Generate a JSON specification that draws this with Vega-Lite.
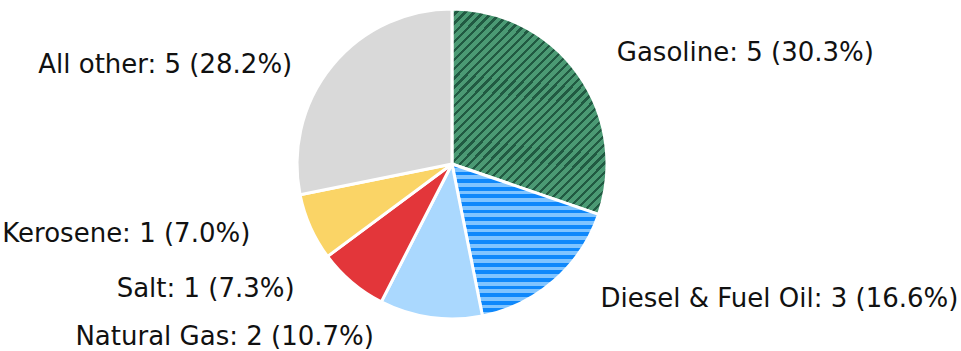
{
  "$schema": "https://vega.github.io/schema/vega-lite/v6.json",
  "autosize": "none",
  "width": 904,
  "height": 328,
  "padding": {"left": 0, "top": 0, "right": 57, "bottom": 23},
  "background": "white",
  "config": {"view": {"stroke": null}, "text": {"font": "DejaVu Sans", "fontSize": 26, "fill": "#111111"}},
  "data": {"values": [
    {"i": 1, "k": "Gasoline", "n": 5, "p": 30.3},
    {"i": 2, "k": "Diesel & Fuel Oil", "n": 3, "p": 16.6},
    {"i": 3, "k": "Natural Gas", "n": 2, "p": 10.7},
    {"i": 4, "k": "Salt", "n": 1, "p": 7.3},
    {"i": 5, "k": "Kerosene", "n": 1, "p": 7.0},
    {"i": 6, "k": "All other", "n": 5, "p": 28.2}
  ]},
  "transform": [{"calculate": "datum.k + ': ' + datum.n + ' (' + format(datum.p, '.1f') + '%)'", "as": "lab"}],
  "encoding": {
    "theta": {"field": "p", "type": "quantitative", "stack": true},
    "order": {"field": "i", "type": "quantitative", "sort": "ascending"},
    "detail": {"field": "k", "type": "nominal"}
  },
  "layer": [
    {
      "mark": {"type": "arc", "outerRadius": 155, "stroke": "white", "strokeWidth": 3},
      "encoding": {
        "fill": {
          "condition": [
            {"test": "datum.k === 'Gasoline'", "value": {"gradient": "linear", "x1": 0, "y1": 0, "x2": 0.86, "y2": 1.12, "stops": [
              {"offset": 0, "color": "#4b9a74"}, {"offset": 0.016, "color": "#4b9a74"}, {"offset": 0.016, "color": "#215a42"}, {"offset": 0.025, "color": "#215a42"},
              {"offset": 0.025, "color": "#4b9a74"}, {"offset": 0.041, "color": "#4b9a74"}, {"offset": 0.041, "color": "#215a42"}, {"offset": 0.05, "color": "#215a42"},
              {"offset": 0.05, "color": "#4b9a74"}, {"offset": 0.066, "color": "#4b9a74"}, {"offset": 0.066, "color": "#215a42"}, {"offset": 0.075, "color": "#215a42"},
              {"offset": 0.075, "color": "#4b9a74"}, {"offset": 0.091, "color": "#4b9a74"}, {"offset": 0.091, "color": "#215a42"}, {"offset": 0.1, "color": "#215a42"},
              {"offset": 0.1, "color": "#4b9a74"}, {"offset": 0.116, "color": "#4b9a74"}, {"offset": 0.116, "color": "#215a42"}, {"offset": 0.125, "color": "#215a42"},
              {"offset": 0.125, "color": "#4b9a74"}, {"offset": 0.141, "color": "#4b9a74"}, {"offset": 0.141, "color": "#215a42"}, {"offset": 0.15, "color": "#215a42"},
              {"offset": 0.15, "color": "#4b9a74"}, {"offset": 0.166, "color": "#4b9a74"}, {"offset": 0.166, "color": "#215a42"}, {"offset": 0.175, "color": "#215a42"},
              {"offset": 0.175, "color": "#4b9a74"}, {"offset": 0.191, "color": "#4b9a74"}, {"offset": 0.191, "color": "#215a42"}, {"offset": 0.2, "color": "#215a42"},
              {"offset": 0.2, "color": "#4b9a74"}, {"offset": 0.216, "color": "#4b9a74"}, {"offset": 0.216, "color": "#215a42"}, {"offset": 0.225, "color": "#215a42"},
              {"offset": 0.225, "color": "#4b9a74"}, {"offset": 0.241, "color": "#4b9a74"}, {"offset": 0.241, "color": "#215a42"}, {"offset": 0.25, "color": "#215a42"},
              {"offset": 0.25, "color": "#4b9a74"}, {"offset": 0.266, "color": "#4b9a74"}, {"offset": 0.266, "color": "#215a42"}, {"offset": 0.275, "color": "#215a42"},
              {"offset": 0.275, "color": "#4b9a74"}, {"offset": 0.291, "color": "#4b9a74"}, {"offset": 0.291, "color": "#215a42"}, {"offset": 0.3, "color": "#215a42"},
              {"offset": 0.3, "color": "#4b9a74"}, {"offset": 0.316, "color": "#4b9a74"}, {"offset": 0.316, "color": "#215a42"}, {"offset": 0.325, "color": "#215a42"},
              {"offset": 0.325, "color": "#4b9a74"}, {"offset": 0.341, "color": "#4b9a74"}, {"offset": 0.341, "color": "#215a42"}, {"offset": 0.35, "color": "#215a42"},
              {"offset": 0.35, "color": "#4b9a74"}, {"offset": 0.366, "color": "#4b9a74"}, {"offset": 0.366, "color": "#215a42"}, {"offset": 0.375, "color": "#215a42"},
              {"offset": 0.375, "color": "#4b9a74"}, {"offset": 0.391, "color": "#4b9a74"}, {"offset": 0.391, "color": "#215a42"}, {"offset": 0.4, "color": "#215a42"},
              {"offset": 0.4, "color": "#4b9a74"}, {"offset": 0.416, "color": "#4b9a74"}, {"offset": 0.416, "color": "#215a42"}, {"offset": 0.425, "color": "#215a42"},
              {"offset": 0.425, "color": "#4b9a74"}, {"offset": 0.441, "color": "#4b9a74"}, {"offset": 0.441, "color": "#215a42"}, {"offset": 0.45, "color": "#215a42"},
              {"offset": 0.45, "color": "#4b9a74"}, {"offset": 0.466, "color": "#4b9a74"}, {"offset": 0.466, "color": "#215a42"}, {"offset": 0.475, "color": "#215a42"},
              {"offset": 0.475, "color": "#4b9a74"}, {"offset": 0.491, "color": "#4b9a74"}, {"offset": 0.491, "color": "#215a42"}, {"offset": 0.5, "color": "#215a42"},
              {"offset": 0.5, "color": "#4b9a74"}, {"offset": 0.516, "color": "#4b9a74"}, {"offset": 0.516, "color": "#215a42"}, {"offset": 0.525, "color": "#215a42"},
              {"offset": 0.525, "color": "#4b9a74"}, {"offset": 0.541, "color": "#4b9a74"}, {"offset": 0.541, "color": "#215a42"}, {"offset": 0.55, "color": "#215a42"},
              {"offset": 0.55, "color": "#4b9a74"}, {"offset": 0.566, "color": "#4b9a74"}, {"offset": 0.566, "color": "#215a42"}, {"offset": 0.575, "color": "#215a42"},
              {"offset": 0.575, "color": "#4b9a74"}, {"offset": 0.591, "color": "#4b9a74"}, {"offset": 0.591, "color": "#215a42"}, {"offset": 0.6, "color": "#215a42"},
              {"offset": 0.6, "color": "#4b9a74"}, {"offset": 0.616, "color": "#4b9a74"}, {"offset": 0.616, "color": "#215a42"}, {"offset": 0.625, "color": "#215a42"},
              {"offset": 0.625, "color": "#4b9a74"}, {"offset": 0.641, "color": "#4b9a74"}, {"offset": 0.641, "color": "#215a42"}, {"offset": 0.65, "color": "#215a42"},
              {"offset": 0.65, "color": "#4b9a74"}, {"offset": 0.666, "color": "#4b9a74"}, {"offset": 0.666, "color": "#215a42"}, {"offset": 0.675, "color": "#215a42"},
              {"offset": 0.675, "color": "#4b9a74"}, {"offset": 0.691, "color": "#4b9a74"}, {"offset": 0.691, "color": "#215a42"}, {"offset": 0.7, "color": "#215a42"},
              {"offset": 0.7, "color": "#4b9a74"}, {"offset": 0.716, "color": "#4b9a74"}, {"offset": 0.716, "color": "#215a42"}, {"offset": 0.725, "color": "#215a42"},
              {"offset": 0.725, "color": "#4b9a74"}, {"offset": 0.741, "color": "#4b9a74"}, {"offset": 0.741, "color": "#215a42"}, {"offset": 0.75, "color": "#215a42"},
              {"offset": 0.75, "color": "#4b9a74"}, {"offset": 0.766, "color": "#4b9a74"}, {"offset": 0.766, "color": "#215a42"}, {"offset": 0.775, "color": "#215a42"},
              {"offset": 0.775, "color": "#4b9a74"}, {"offset": 0.791, "color": "#4b9a74"}, {"offset": 0.791, "color": "#215a42"}, {"offset": 0.8, "color": "#215a42"},
              {"offset": 0.8, "color": "#4b9a74"}, {"offset": 0.816, "color": "#4b9a74"}, {"offset": 0.816, "color": "#215a42"}, {"offset": 0.825, "color": "#215a42"},
              {"offset": 0.825, "color": "#4b9a74"}, {"offset": 0.841, "color": "#4b9a74"}, {"offset": 0.841, "color": "#215a42"}, {"offset": 0.85, "color": "#215a42"},
              {"offset": 0.85, "color": "#4b9a74"}, {"offset": 0.866, "color": "#4b9a74"}, {"offset": 0.866, "color": "#215a42"}, {"offset": 0.875, "color": "#215a42"},
              {"offset": 0.875, "color": "#4b9a74"}, {"offset": 0.891, "color": "#4b9a74"}, {"offset": 0.891, "color": "#215a42"}, {"offset": 0.9, "color": "#215a42"},
              {"offset": 0.9, "color": "#4b9a74"}, {"offset": 0.916, "color": "#4b9a74"}, {"offset": 0.916, "color": "#215a42"}, {"offset": 0.925, "color": "#215a42"},
              {"offset": 0.925, "color": "#4b9a74"}, {"offset": 0.941, "color": "#4b9a74"}, {"offset": 0.941, "color": "#215a42"}, {"offset": 0.95, "color": "#215a42"},
              {"offset": 0.95, "color": "#4b9a74"}, {"offset": 0.966, "color": "#4b9a74"}, {"offset": 0.966, "color": "#215a42"}, {"offset": 0.975, "color": "#215a42"},
              {"offset": 0.975, "color": "#4b9a74"}, {"offset": 0.991, "color": "#4b9a74"}, {"offset": 0.991, "color": "#215a42"}, {"offset": 1, "color": "#215a42"}
            ]}},
            {"test": "datum.k === 'Diesel & Fuel Oil'", "value": {"gradient": "linear", "x1": 0, "y1": 0, "x2": 0, "y2": 1, "stops": [
              {"offset": 0, "color": "#0f88fb"}, {"offset": 0.025, "color": "#0f88fb"}, {"offset": 0.025, "color": "#80c4ff"}, {"offset": 0.05, "color": "#80c4ff"},
              {"offset": 0.05, "color": "#0f88fb"}, {"offset": 0.075, "color": "#0f88fb"}, {"offset": 0.075, "color": "#80c4ff"}, {"offset": 0.1, "color": "#80c4ff"},
              {"offset": 0.1, "color": "#0f88fb"}, {"offset": 0.125, "color": "#0f88fb"}, {"offset": 0.125, "color": "#80c4ff"}, {"offset": 0.15, "color": "#80c4ff"},
              {"offset": 0.15, "color": "#0f88fb"}, {"offset": 0.175, "color": "#0f88fb"}, {"offset": 0.175, "color": "#80c4ff"}, {"offset": 0.2, "color": "#80c4ff"},
              {"offset": 0.2, "color": "#0f88fb"}, {"offset": 0.225, "color": "#0f88fb"}, {"offset": 0.225, "color": "#80c4ff"}, {"offset": 0.25, "color": "#80c4ff"},
              {"offset": 0.25, "color": "#0f88fb"}, {"offset": 0.275, "color": "#0f88fb"}, {"offset": 0.275, "color": "#80c4ff"}, {"offset": 0.3, "color": "#80c4ff"},
              {"offset": 0.3, "color": "#0f88fb"}, {"offset": 0.325, "color": "#0f88fb"}, {"offset": 0.325, "color": "#80c4ff"}, {"offset": 0.35, "color": "#80c4ff"},
              {"offset": 0.35, "color": "#0f88fb"}, {"offset": 0.375, "color": "#0f88fb"}, {"offset": 0.375, "color": "#80c4ff"}, {"offset": 0.4, "color": "#80c4ff"},
              {"offset": 0.4, "color": "#0f88fb"}, {"offset": 0.425, "color": "#0f88fb"}, {"offset": 0.425, "color": "#80c4ff"}, {"offset": 0.45, "color": "#80c4ff"},
              {"offset": 0.45, "color": "#0f88fb"}, {"offset": 0.475, "color": "#0f88fb"}, {"offset": 0.475, "color": "#80c4ff"}, {"offset": 0.5, "color": "#80c4ff"},
              {"offset": 0.5, "color": "#0f88fb"}, {"offset": 0.525, "color": "#0f88fb"}, {"offset": 0.525, "color": "#80c4ff"}, {"offset": 0.55, "color": "#80c4ff"},
              {"offset": 0.55, "color": "#0f88fb"}, {"offset": 0.575, "color": "#0f88fb"}, {"offset": 0.575, "color": "#80c4ff"}, {"offset": 0.6, "color": "#80c4ff"},
              {"offset": 0.6, "color": "#0f88fb"}, {"offset": 0.625, "color": "#0f88fb"}, {"offset": 0.625, "color": "#80c4ff"}, {"offset": 0.65, "color": "#80c4ff"},
              {"offset": 0.65, "color": "#0f88fb"}, {"offset": 0.675, "color": "#0f88fb"}, {"offset": 0.675, "color": "#80c4ff"}, {"offset": 0.7, "color": "#80c4ff"},
              {"offset": 0.7, "color": "#0f88fb"}, {"offset": 0.725, "color": "#0f88fb"}, {"offset": 0.725, "color": "#80c4ff"}, {"offset": 0.75, "color": "#80c4ff"},
              {"offset": 0.75, "color": "#0f88fb"}, {"offset": 0.775, "color": "#0f88fb"}, {"offset": 0.775, "color": "#80c4ff"}, {"offset": 0.8, "color": "#80c4ff"},
              {"offset": 0.8, "color": "#0f88fb"}, {"offset": 0.825, "color": "#0f88fb"}, {"offset": 0.825, "color": "#80c4ff"}, {"offset": 0.85, "color": "#80c4ff"},
              {"offset": 0.85, "color": "#0f88fb"}, {"offset": 0.875, "color": "#0f88fb"}, {"offset": 0.875, "color": "#80c4ff"}, {"offset": 0.9, "color": "#80c4ff"},
              {"offset": 0.9, "color": "#0f88fb"}, {"offset": 0.925, "color": "#0f88fb"}, {"offset": 0.925, "color": "#80c4ff"}, {"offset": 0.95, "color": "#80c4ff"},
              {"offset": 0.95, "color": "#0f88fb"}, {"offset": 0.975, "color": "#0f88fb"}, {"offset": 0.975, "color": "#80c4ff"}, {"offset": 1, "color": "#80c4ff"}
            ]}}
          ],
          "field": "k",
          "type": "nominal",
          "scale": {
            "domain": ["Gasoline", "Diesel & Fuel Oil", "Natural Gas", "Salt", "Kerosene", "All other"],
            "range": ["#3b8060", "#42a3ff", "#aad8fe", "#e3363a", "#fad466", "#d9d9d9"]
          },
          "legend": null
        }
      }
    },
    {
      "mark": {"type": "text", "radius": 200, "align": "left", "baseline": "middle", "dx": 2, "dy": 5},
      "encoding": {"text": {"condition": {"test": "datum.k === 'Gasoline'", "field": "lab", "type": "nominal"}, "value": ""}}
    },
    {
      "mark": {"type": "text", "radius": 180, "align": "left", "baseline": "middle", "dx": 30, "dy": 0},
      "encoding": {"text": {"condition": {"test": "datum.k === 'Diesel & Fuel Oil'", "field": "lab", "type": "nominal"}, "value": ""}}
    },
    {
      "mark": {"type": "text", "radius": 175, "align": "right", "baseline": "middle", "dx": -54, "dy": 0},
      "encoding": {"text": {"condition": {"test": "datum.k === 'Natural Gas'", "field": "lab", "type": "nominal"}, "value": ""}}
    },
    {
      "mark": {"type": "text", "radius": 166, "align": "right", "baseline": "middle", "dx": -50, "dy": -2},
      "encoding": {"text": {"condition": {"test": "datum.k === 'Salt'", "field": "lab", "type": "nominal"}, "value": ""}}
    },
    {
      "mark": {"type": "text", "radius": 200, "align": "right", "baseline": "middle", "dx": -19, "dy": -11},
      "encoding": {"text": {"condition": {"test": "datum.k === 'Kerosene'", "field": "lab", "type": "nominal"}, "value": ""}}
    },
    {
      "mark": {"type": "text", "radius": 156, "align": "right", "baseline": "middle", "dx": -39, "dy": 0},
      "encoding": {"text": {"condition": {"test": "datum.k === 'All other'", "field": "lab", "type": "nominal"}, "value": ""}}
    }
  ]
}
